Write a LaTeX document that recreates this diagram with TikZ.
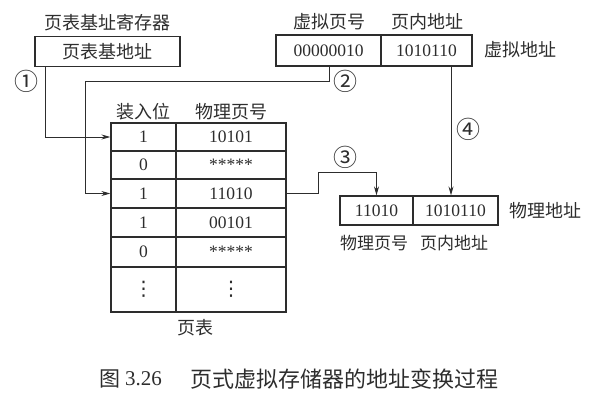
\documentclass[tikz,border=0pt]{standalone}
\usepackage{fontspec}
\setmainfont{Liberation Serif}
\newfontfamily\cjk{Noto Sans CJK SC}
\newfontfamily\djv{DejaVu Sans}
\usetikzlibrary{arrows.meta}
\definecolor{ink}{RGB}{45,45,45}
\tikzset{
  box/.style={draw=ink, line width=1.2pt, inner sep=0pt, text=ink, font=\fontsize{17.5}{17.5}\selectfont},
  lbl/.style={inner sep=0pt, text=ink, font=\cjk\fontsize{18}{18}\selectfont},
  num/.style={inner sep=0pt, text=ink, font=\cjk\fontsize{24}{24}\selectfont},
  conn/.style={draw=ink, line width=0.9pt},
  arr/.style={conn, -{Stealth[length=9pt,width=5pt]}},
}
\newcommand{\stars}{\raisebox{-5pt}{*****}}
\newcommand{\vdts}{{\djv\fontsize{20}{20}\selectfont ⋮}}
\begin{document}
\begin{tikzpicture}[x=1pt,y=-1pt]
\useasboundingbox (0,0) rectangle (611,401);
% page table base register
\node[lbl] (regl) at (108,23) {页表基址寄存器};
\node[box, minimum width=145pt, minimum height=30pt, font=\cjk\fontsize{18}{18}\selectfont] (reg) at (107.5,51.5) {页表基地址};
% virtual address
\node[lbl] (vpl) at (329,22) {虚拟页号};
\node[lbl] (vol) at (427,22) {页内地址};
\node[box, minimum width=105pt, minimum height=31pt] (vp) at (328.5,50.5) {00000010};
\node[box, minimum width=91pt, minimum height=31pt] (vo) at (426.5,50.5) {1010110};
\node[lbl] (val) at (520,50) {虚拟地址};
% page table
\node[lbl] (h1) at (143,112) {装入位};
\node[lbl] (h2) at (231,112) {物理页号};
\node[box, minimum width=65pt, minimum height=28pt] (b1) at (143.5,137) {1};
\node[box, minimum width=110pt, minimum height=28pt] (p1) at (231,137) {10101};
\node[box, minimum width=65pt, minimum height=28pt] (b2) at (143.5,165) {0};
\node[box, minimum width=110pt, minimum height=28pt] (p2) at (231,165) {\stars};
\node[box, minimum width=65pt, minimum height=29pt] (b3) at (143.5,193.5) {1};
\node[box, minimum width=110pt, minimum height=29pt] (p3) at (231,193.5) {11010};
\node[box, minimum width=65pt, minimum height=29pt] (b4) at (143.5,222.5) {1};
\node[box, minimum width=110pt, minimum height=29pt] (p4) at (231,222.5) {00101};
\node[box, minimum width=65pt, minimum height=30pt] (b5) at (143.5,252) {0};
\node[box, minimum width=110pt, minimum height=30pt] (p5) at (231,252) {\stars};
\node[box, minimum width=65pt, minimum height=45pt] (b6) at (143.5,289.5) {\vdts};
\node[box, minimum width=110pt, minimum height=45pt] (p6) at (231,289.5) {\vdts};
\node[lbl] (tl) at (195,328) {页表};
% physical address
\node[box, minimum width=73pt, minimum height=29pt] (ph1) at (376.5,210.5) {11010};
\node[box, minimum width=85pt, minimum height=29pt] (ph2) at (455.5,210.5) {1010110};
\node[lbl] (pal) at (545,211) {物理地址};
\node[lbl, font=\cjk\fontsize{17}{17}\selectfont] (ppl) at (374,243) {物理页号};
\node[lbl, font=\cjk\fontsize{17}{17}\selectfont] (pol) at (454,243) {页内地址};
% step numbers
\node[num] (n1) at (27,81) {①};
\node[num] (n2) at (345,81) {②};
\node[num] (n3) at (345,157) {③};
\node[num] (n4) at (468,129) {④};
% helper coordinates
\coordinate (c1) at (45,0);
\coordinate (c2) at (329,81);
\coordinate (c2b) at (85,81);
\coordinate (c3) at (318,172);
\coordinate (c4) at (451,0);
% connectors
\draw[arr] (reg.south -| c1) |- (b1.west);
\draw[arr] (vp.south -| c2) -- (c2) -- (c2b) |- (b3.west);
\draw[arr] (p3.east) -| (c3) -| (ph1.north);
\draw[arr] (vo.south -| c4) -- (ph2.north -| c4);
% caption
\node[inner sep=0pt, text=ink, font=\cjk\fontsize{21}{21}\selectfont] (cap1) at (110,379) {图};
\node[inner sep=0pt, text=ink, font=\fontsize{21}{21}\selectfont] (cap2) at (143.5,379) {3.26};
\node[inner sep=0pt, anchor=west, text=ink, font=\cjk\fontsize{22}{22}\selectfont] (cap3) at (190,379) {页式虚拟存储器的地址变换过程};
\end{tikzpicture}
\end{document}
